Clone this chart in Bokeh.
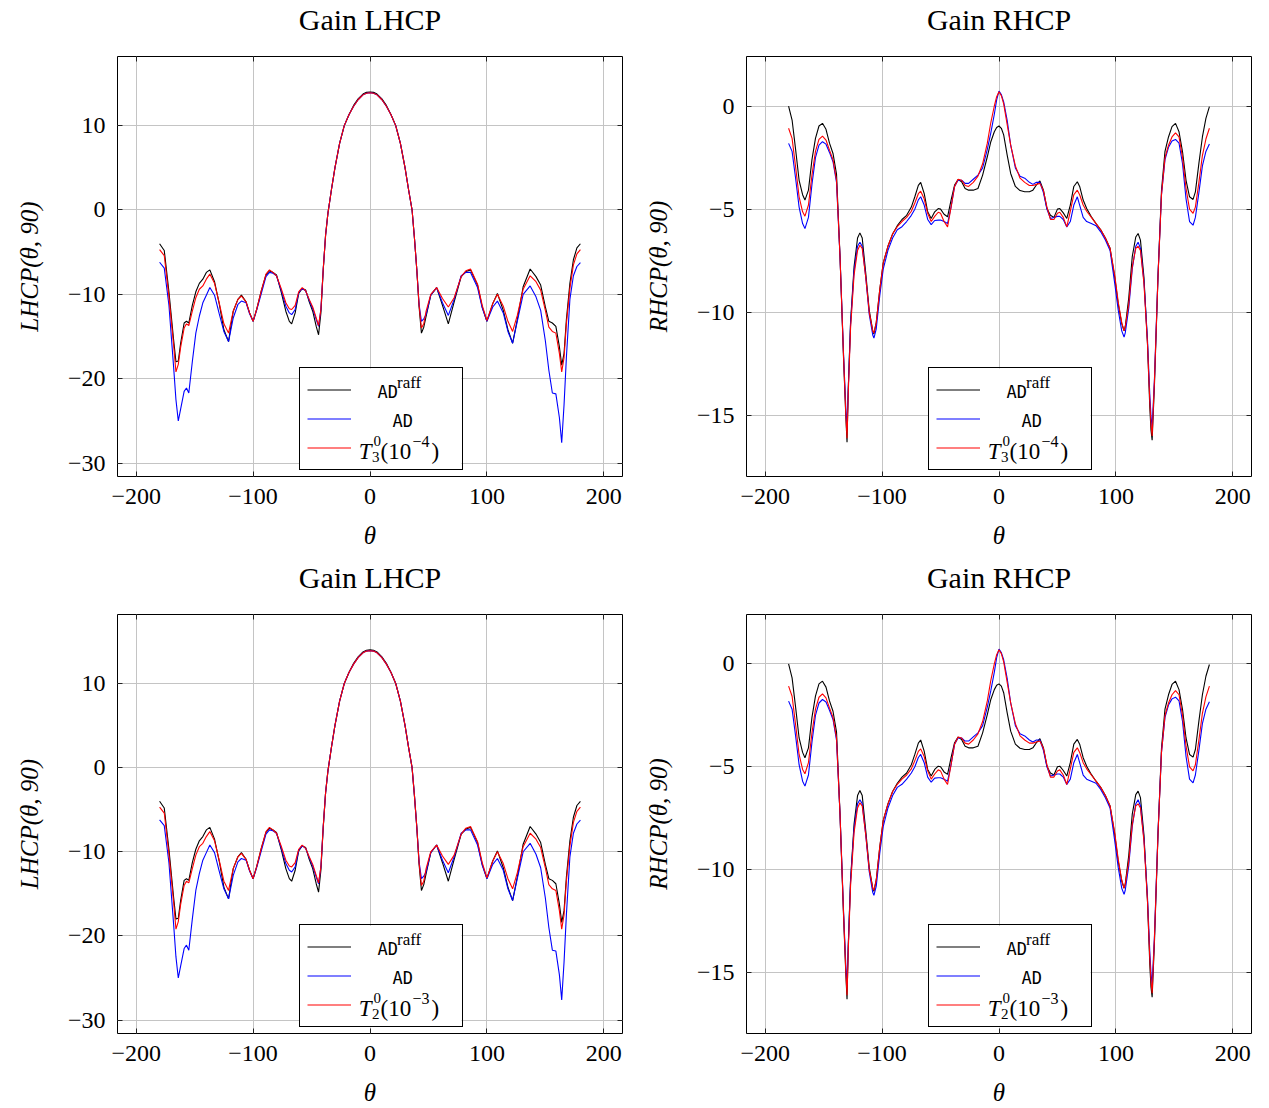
from bokeh.plotting import figure
from bokeh.models import FixedTicker, LinearAxis, Legend, LegendItem, Range1d, Title, BoxAnnotation
from bokeh.core.properties import value
from bokeh.layouts import column, row
from bokeh.embed import file_html
from bokeh.resources import INLINE

# ---------------- data ----------------
theta_lhcp = [-180, -176, -172, -168, -166, -164, -162, -159, -157, -155, -152, -149, -146, -143,
              -140, -137, -133, -129, -125, -121, -117, -113, -110, -106, -103, -100, -97, -93,
              -89, -86, -83, -80, -76, -72, -69, -67, -64, -61, -58, -55, -52, -49, -46, -44,
              -42, -40, -38, -36, -33, -30, -26, -22, -18, -14, -10, -6, -3, 0,
              3, 6, 10, 14, 18, 22, 26, 30, 33, 36, 38, 40, 42, 44, 46, 48, 52, 57, 62, 67, 72,
              78, 82, 86, 92, 96, 100, 105, 109, 114, 118, 122, 126, 131, 137, 142, 146, 150,
              153, 156, 159, 162, 164, 166, 168, 171, 174, 177, 180]

lhcp_adraff = [-4.0, -4.8, -9.7, -15.4, -18.0, -17.9, -15.8, -13.4, -13.2, -13.4, -11.3, -9.7, -8.7, -8.2,
               -7.4, -7.1, -8.5, -11.1, -14.2, -15.6, -12.0, -10.6, -10.1, -10.9, -12.2, -13.2, -11.8, -9.6,
               -7.7, -7.2, -7.4, -7.7, -9.7, -12.0, -13.2, -13.5, -12.2, -9.9, -9.3, -9.5, -10.9, -12.0, -13.8, -14.8,
               -12.2, -7.1, -3.0, -0.4, 2.4, 5.0, 7.9, 10.0, 11.3, 12.4, 13.2, 13.75, 13.95, 14.0,
               13.95, 13.75, 13.2, 12.4, 11.3, 10.0, 7.9, 5.0, 2.4, 0.0, -3.3, -7.0, -11.5, -14.6, -13.9, -12.6,
               -10.1, -9.2, -11.3, -13.5, -10.9, -7.9, -7.3, -7.1, -8.9, -11.5, -13.2, -11.1, -9.9, -11.9,
               -14.2, -15.8, -13.0, -9.1, -7.0, -7.9, -8.9, -11.5, -13.2, -13.4, -13.8, -16.2, -18.4, -17.0,
               -13.0, -8.7, -5.9, -4.5, -4.0]

lhcp_ad = [-6.2, -6.9, -11.3, -18.6, -22.5, -25.0, -23.6, -21.5, -21.1, -21.7, -18.0, -14.6, -12.6, -11.0,
           -10.1, -9.2, -10.1, -12.3, -14.4, -15.6, -12.8, -11.2, -10.8, -11.0, -12.3, -13.2, -11.9, -9.9,
           -7.9, -7.4, -7.5, -7.8, -9.5, -11.4, -12.2, -12.4, -11.8, -9.8, -9.3, -9.6, -10.7, -11.7, -13.0, -13.8,
           -11.8, -7.0, -3.0, -0.4, 2.4, 5.0, 7.9, 10.0, 11.3, 12.3, 13.1, 13.65, 13.85, 13.9,
           13.85, 13.65, 13.1, 12.3, 11.3, 10.0, 7.9, 5.0, 2.4, 0.0, -3.3, -7.0, -11.2, -13.2, -12.9, -12.4,
           -10.1, -9.2, -11.0, -12.5, -10.6, -7.8, -7.4, -7.4, -9.2, -11.6, -13.2, -11.5, -10.8, -12.2,
           -14.4, -15.8, -13.2, -10.0, -9.0, -10.3, -11.9, -15.5, -19.0, -21.7, -21.8, -24.6, -27.6, -23.1,
           -17.5, -10.6, -7.8, -6.7, -6.25]

lhcp_t = [-4.7, -5.4, -10.3, -16.0, -19.2, -18.3, -16.3, -14.0, -13.5, -13.7, -12.0, -10.4, -9.4, -9.0,
          -8.2, -7.6, -8.7, -11.0, -13.5, -14.6, -12.0, -10.6, -10.2, -10.9, -12.2, -13.2, -11.8, -9.6,
          -7.6, -7.1, -7.4, -7.8, -9.3, -11.0, -11.7, -11.8, -11.3, -9.7, -9.2, -9.6, -10.6, -11.5, -12.8, -13.7,
          -11.8, -7.0, -3.0, -0.4, 2.4, 5.0, 7.9, 10.0, 11.3, 12.3, 13.1, 13.65, 13.85, 13.9,
          13.85, 13.65, 13.1, 12.3, 11.3, 10.0, 7.9, 5.0, 2.4, 0.0, -3.3, -7.0, -11.3, -14.0, -13.5, -12.0,
          -10.0, -9.2, -10.5, -11.5, -10.4, -7.9, -7.2, -7.0, -8.8, -11.3, -13.1, -11.1, -10.0, -11.4,
          -13.2, -14.4, -12.5, -9.4, -7.8, -8.5, -9.5, -11.9, -13.9, -14.4, -14.6, -17.0, -19.2, -17.5,
          -13.5, -9.3, -6.5, -5.2, -4.7]

theta_rhcp = [-180, -177, -174, -171, -168, -166, -163, -160, -157, -154, -151, -148, -145, -142,
              -139, -136, -133, -131, -130, -129, -127, -124, -121, -119, -117, -114, -111, -108,
              -107, -105, -102, -99, -95, -91, -87, -83, -79, -75, -72, -69, -67, -64,
              -61, -58, -55, -52, -50, -47, -44, -41, -38, -35, -32, -29, -26, -22,
              -18, -14, -10, -7, -4, -2, 0,
              2, 4, 7, 10, 14, 18, 22, 26, 29, 32, 35, 38, 41, 44,
              47, 50, 52, 55, 58, 61, 64, 67, 69, 72, 75, 79, 83, 87,
              91, 95, 99, 102, 105, 107, 108, 111, 114, 117, 119, 121, 124, 127,
              129, 130, 131, 133, 136, 139, 142, 145, 148, 151, 154, 157, 160, 163,
              166, 168, 171, 174, 177, 180]

rhcp_adraff = [0.0, -0.68, -2.1, -3.6, -4.3, -4.56, -4.08, -2.6, -1.57, -0.97, -0.84, -1.13, -1.8, -2.3,
               -3.3, -7.3, -12.2, -15.1, -16.3, -13.8, -10.5, -7.8, -6.4, -6.15, -6.4, -8.1, -9.9, -10.9,
               -11.05, -10.5, -8.9, -7.6, -6.8, -6.2, -5.8, -5.5, -5.3, -4.9, -4.4, -3.85, -3.7, -4.24,
               -5.13, -5.45, -5.13, -4.97, -5.0, -5.25, -5.37, -4.56, -3.83, -3.56, -3.67, -4.0, -4.08, -4.08,
               -4.0, -3.35, -2.46, -1.73, -1.25, -1.04, -0.97,
               -1.08, -1.4, -2.38, -3.27, -3.9, -4.1, -4.16, -4.16, -4.08, -3.83, -3.63, -4.08, -4.97, -5.3,
               -5.4, -5.0, -4.97, -5.18, -5.45, -4.8, -3.9, -3.67, -3.9, -4.56, -4.97, -5.37, -5.7, -6.0,
               -6.4, -6.9, -8.3, -9.6, -10.55, -10.9, -10.7, -9.3, -7.3, -6.35, -6.18, -6.5, -8.3, -11.5,
               -14.6, -15.7, -16.2, -13.5, -8.3, -4.1, -2.2, -1.5, -1.0, -0.84, -1.25, -2.22, -3.6, -4.4,
               -4.53, -4.16, -2.78, -1.5, -0.6, -0.03]

rhcp_ad = [-1.81, -2.2, -3.5, -4.9, -5.7, -5.94, -5.4, -3.8, -2.5, -1.9, -1.73, -1.85, -2.25, -2.7,
           -3.7, -7.3, -12.0, -14.7, -15.6, -13.8, -10.6, -8.0, -6.8, -6.6, -6.8, -8.3, -10.1, -11.1,
           -11.25, -10.8, -9.2, -7.9, -7.0, -6.4, -6.0, -5.85, -5.6, -5.3, -5.0, -4.55, -4.4, -4.8,
           -5.5, -5.75, -5.55, -5.53, -5.53, -5.6, -5.7, -4.9, -3.9, -3.6, -3.6, -3.75, -3.75, -3.55,
           -3.35, -3.0, -2.1, -1.3, -0.4, 0.3, 0.72,
           0.55, 0.2, -0.7, -1.9, -3.0, -3.4, -3.5, -3.7, -3.8, -3.7, -3.7, -4.2, -5.0, -5.45,
           -5.4, -5.35, -5.35, -5.5, -5.86, -5.6, -4.8, -4.4, -4.8, -5.4, -5.6, -5.7, -5.8, -6.1,
           -6.5, -7.0, -8.6, -9.9, -10.9, -11.2, -11.0, -9.8, -7.9, -6.8, -6.6, -6.9, -8.5, -11.3,
           -14.0, -15.0, -15.6, -13.2, -8.2, -4.3, -2.6, -2.0, -1.7, -1.62, -1.8, -2.8, -4.5, -5.6,
           -5.78, -5.4, -4.2, -2.9, -2.2, -1.84]

rhcp_t = [-1.08, -1.57, -2.95, -4.4, -5.13, -5.34, -4.8, -3.35, -2.2, -1.62, -1.46, -1.65, -2.14, -2.6,
          -3.6, -7.3, -12.1, -15.0, -16.1, -14.0, -10.8, -8.2, -7.0, -6.75, -6.9, -8.3, -10.0, -10.9,
          -11.0, -10.5, -8.9, -7.6, -6.8, -6.2, -5.85, -5.6, -5.4, -5.1, -4.7, -4.25, -4.13, -4.5,
          -5.2, -5.6, -5.35, -5.15, -5.2, -5.6, -5.86, -4.9, -3.9, -3.55, -3.6, -3.85, -3.9, -3.7,
          -3.4, -2.8, -1.8, -0.8, 0.0, 0.45, 0.69,
          0.5, 0.1, -0.9, -1.9, -2.9, -3.5, -3.7, -3.85, -3.85, -3.8, -3.75, -4.1, -4.9, -5.5,
          -5.5, -5.2, -5.15, -5.4, -5.86, -5.1, -4.3, -4.08, -4.3, -4.8, -5.1, -5.4, -5.7, -6.0,
          -6.4, -6.9, -8.2, -9.5, -10.5, -10.9, -10.7, -9.6, -7.8, -6.9, -6.8, -7.0, -8.6, -11.5,
          -14.3, -15.4, -16.0, -13.3, -8.3, -4.3, -2.5, -1.9, -1.5, -1.3, -1.5, -2.5, -4.0, -5.0,
          -5.2, -4.9, -3.7, -2.4, -1.6, -1.08]

x_ticks = [-200, -100, 0, 100, 200]
lhcp_ticks = [-30, -20, -10, 0, 10]
rhcp_ticks = [-15, -10, -5, 0]

series_colors = ["black", "blue", "red"]

# ---------------- styling ----------------
SERIF = "Liberation Serif"
MONO = "DejaVu Sans Mono"
MINUS = "\u2212"
FW, FH = 505, 420
X_RANGE = (-216, 216)


def lab(t):
    return (MINUS + str(abs(t))) if t < 0 else str(t)


def style_axis(ax, ticks, with_labels, standoff=0):
    ax.ticker = FixedTicker(ticks=ticks)
    ax.major_tick_in = 5
    ax.major_tick_out = 0
    ax.minor_tick_in = 0
    ax.minor_tick_out = 0
    ax.axis_line_color = None
    ax.major_tick_line_color = "#222222"
    if with_labels:
        ax.major_label_overrides = {t: lab(t) for t in ticks}
        ax.major_label_text_font = SERIF
        ax.major_label_text_font_size = "24px"
        ax.major_label_text_color = "black"
        ax.axis_label_text_font = SERIF
        ax.axis_label_text_font_style = "italic"
        ax.axis_label_text_font_size = "25px"
        ax.axis_label_text_color = "black"
    else:
        ax.major_label_overrides = {t: " " for t in ticks}
        ax.major_label_text_font_size = "1px"
        ax.major_label_standoff = standoff


def panel(kind, order, exp, left, right, height, bottom):
    if kind == "LHCP":
        theta = theta_lhcp
        ys = [lhcp_adraff, lhcp_ad, lhcp_t]
        yr = (-31.6, 18.2)
        yt = lhcp_ticks
    else:
        theta = theta_rhcp
        ys = [rhcp_adraff, rhcp_ad, rhcp_t]
        yr = (-17.96, 2.4)
        yt = rhcp_ticks
    width = left + FW + right
    p = figure(width=width, height=height, x_range=Range1d(*X_RANGE), y_range=Range1d(*yr),
               output_backend="svg", toolbar_location=None, title=None,
               min_border_left=left, min_border_right=right, min_border_top=56,
               min_border_bottom=bottom)
    p.outline_line_color = "black"
    p.outline_line_width = 1
    p.outline_line_alpha = 1
    p.background_fill_color = "white"
    p.border_fill_color = "white"

    xa = p.xaxis[0]
    ya = p.yaxis[0]
    style_axis(xa, x_ticks, True)
    style_axis(ya, yt, True)
    xa.axis_label = "\u03b8"
    ya.axis_label = kind + "(\u03b8, 90)"
    xa.major_label_standoff = 12
    xa.axis_label_standoff = 15
    ya.major_label_standoff = 12
    ya.axis_label_standoff = 22

    top = LinearAxis()
    style_axis(top, x_ticks, False, standoff=16)
    p.add_layout(top, "above")
    rgt = LinearAxis()
    style_axis(rgt, yt, False)
    p.add_layout(rgt, "right")

    ttl = Title(text="Gain " + kind, align="center", text_font=SERIF, text_font_style="normal",
                text_font_size="30px", text_color="black", standoff=1)
    p.add_layout(ttl, "above")

    p.xgrid.ticker = FixedTicker(ticks=x_ticks)
    p.ygrid.ticker = FixedTicker(ticks=yt)
    for g in (p.xgrid[0], p.ygrid[0]):
        g.grid_line_color = "#c4c4c4"
        g.grid_line_width = 1

    rends = []
    for y, c in zip(ys, series_colors):
        rends.append(p.line(theta, y, line_color=c, line_width=1.1))

    # legend texts, positioned in frame pixels (converted to data coordinates)
    def at(rx, ry):
        x = X_RANGE[0] + rx * (X_RANGE[1] - X_RANGE[0]) / FW
        y = yr[1] - ry * (yr[1] - yr[0]) / FH
        return x, y

    bl, bt = at(182, 312)
    br, bb = at(344, 414)
    p.add_layout(BoxAnnotation(left=bl, right=br, top=bt, bottom=bb, fill_color="white",
                               fill_alpha=1, line_color=None, level="annotation"))

    leg = Legend(items=[LegendItem(label=" ", renderers=[r]) for r in rends],
                 location=(182, 6), orientation="vertical",
                 glyph_width=44, glyph_height=29, label_height=29, label_width=100,
                 spacing=0, padding=7, margin=0, label_standoff=4,
                 border_line_color="black", border_line_width=1, border_line_alpha=1,
                 background_fill_alpha=0, label_text_font_size="12px")
    p.add_layout(leg, "center")

    pieces = [
        ("AD", 260.0, 335.5, MONO, "17px", "normal"),
        ("raff", 279.5, 325.5, SERIF, "17px", "normal"),
        ("AD", 275.0, 364.0, MONO, "17px", "normal"),
        ("T", 241.3, 394.5, SERIF, "23px", "italic"),
        ("0", 256.0, 384.5, SERIF, "15px", "normal"),
        (order, 254.5, 400.0, SERIF, "15px", "normal"),
        ("(10", 263.0, 394.5, SERIF, "23px", "normal"),
        (MINUS + exp, 295.0, 384.5, SERIF, "16px", "normal"),
        (")", 314.0, 394.5, SERIF, "23px", "normal"),
    ]
    for txt, rx, ry, font, size, st in pieces:
        x, y = at(rx, ry)
        p.text(x=[x], y=[y], text=[txt], text_font=value(font), text_font_size=value(size),
               text_font_style=value(st), text_color="black", text_align="left",
               text_baseline="alphabetic", level="overlay")
    return p


p1 = panel("LHCP", "3", "4", 117, 16, 558, 82)
p2 = panel("RHCP", "3", "4", 108, 17, 558, 82)
p3 = panel("LHCP", "2", "3", 117, 16, 550, 74)
p4 = panel("RHCP", "2", "3", 108, 17, 550, 74)

layout = column(row(p1, p2), row(p3, p4))
open("out.html", "w").write(file_html(layout, INLINE))
